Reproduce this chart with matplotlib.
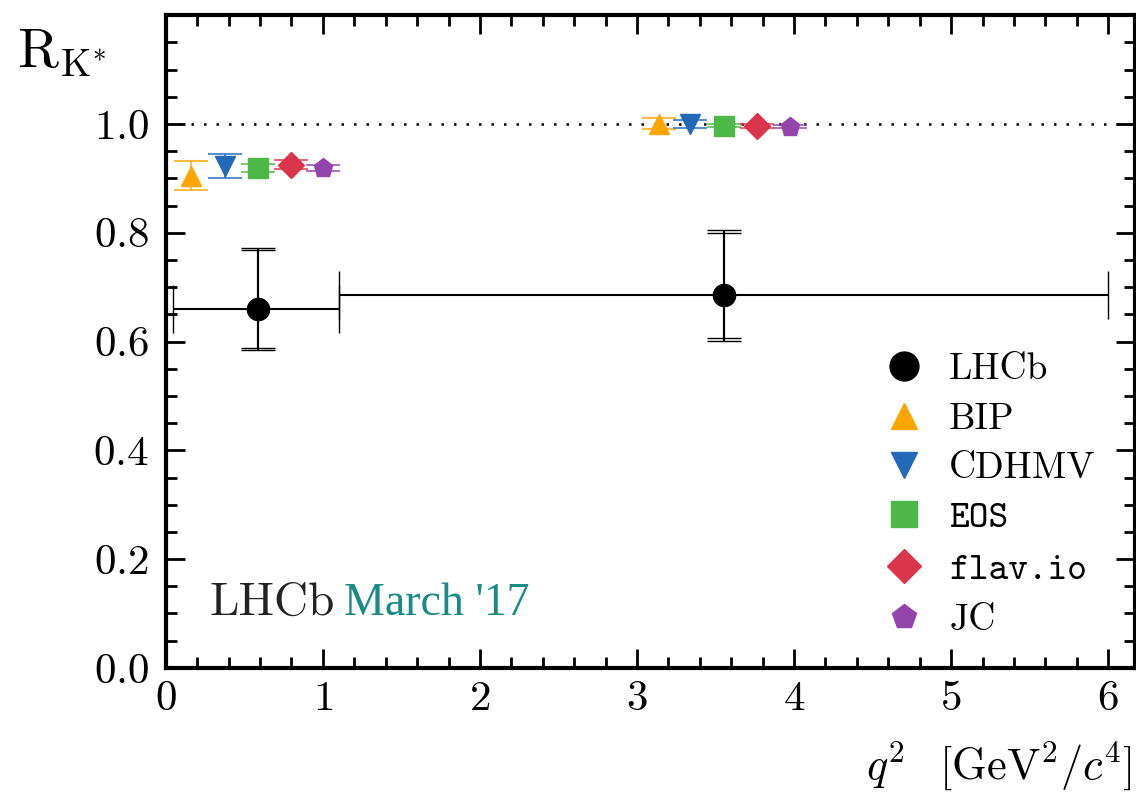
import matplotlib.pyplot as plt
import numpy as np
from matplotlib.ticker import MultipleLocator

plt.rcParams['font.family'] = 'serif'
plt.rcParams['font.serif'] = ['cmr10', 'DejaVu Serif']
plt.rcParams['mathtext.fontset'] = 'cm'
plt.rcParams['axes.formatter.use_mathtext'] = True

# LHCb measurement (two q2 bins)
lhcb_x = [0.585, 3.555]
lhcb_xlo = [0.045, 1.1]
lhcb_xhi = [1.1, 6.0]
lhcb_y = [0.66, 0.685]
lhcb_stat_up = [0.108, 0.115]
lhcb_stat_dn = [0.072, 0.078]
lhcb_tot_up = [0.112, 0.120]
lhcb_tot_dn = [0.075, 0.084]

# theory predictions: name, x positions (both bins), values, errors
th_names = ['BIP', 'CDHMV', 'EOS', 'flav.io', 'JC']
th_x = [[0.16, 3.14], [0.375, 3.34], [0.585, 3.555], [0.795, 3.765], [1.0, 3.975]]
th_y = [[0.905, 1.0], [0.922, 1.0], [0.919, 0.997], [0.925, 0.996], [0.919, 0.995]]
th_err = [[0.027, 0.010], [0.022, 0.007], [0.007, 0.003], [0.008, 0.004], [0.005, 0.003]]
th_colors = ['#ffa500', '#2369b8', '#4db848', '#db344d', '#9445ab']
th_markers = ['^', 'v', 's', 'D', 'p']
th_msize = [14, 14, 14, 13, 14]

fig = plt.figure(figsize=(11.36, 7.97), dpi=100)
ax = fig.add_axes([0.146, 0.162, 0.853, 0.819])

ax.axhline(1.0, color='black', ls=(0, (1, 4)), lw=1.8, zorder=1)

for i, name in enumerate(th_names):
    ax.errorbar(th_x[i], th_y[i], yerr=th_err[i], fmt='none', ecolor=th_colors[i],
                alpha=0.75, elinewidth=1.5, capsize=12, capthick=1.5, zorder=2)
    ax.plot(th_x[i], th_y[i], ls='none', marker=th_markers[i], ms=th_msize[i],
            color=th_colors[i], zorder=3)

# LHCb
xerr = [np.array(lhcb_x) - np.array(lhcb_xlo), np.array(lhcb_xhi) - np.array(lhcb_x)]
ax.errorbar(lhcb_x, lhcb_y, xerr=xerr, fmt='none', ecolor='black', elinewidth=1.5,
            capsize=17, capthick=1.0, zorder=4)
ax.errorbar(lhcb_x, lhcb_y, yerr=[lhcb_stat_dn, lhcb_stat_up], fmt='none', ecolor='black',
            elinewidth=1.5, capsize=12, capthick=1.0, zorder=4)
ax.errorbar(lhcb_x, lhcb_y, yerr=[lhcb_tot_dn, lhcb_tot_up], fmt='none', ecolor='black',
            elinewidth=1.5, capsize=12, capthick=1.0, zorder=4)
ax.plot(lhcb_x, lhcb_y, ls='none', marker='o', ms=16, color='black', zorder=5)

# legend proxies from markers only
handles = [plt.Line2D([], [], ls='none', marker='o', ms=16, color='black')]
for i in range(len(th_names)):
    handles.append(plt.Line2D([], [], ls='none', marker=th_markers[i], ms=th_msize[i],
                              color=th_colors[i]))
leg = ax.legend(handles, ['LHCb'] + th_names, loc='lower right', frameon=False,
                fontsize=27, labelspacing=0.43, handletextpad=0.4, markerscale=1.3,
                handlelength=1.6, borderaxespad=0, bbox_to_anchor=(0.975, 0.024))
for t in leg.get_texts():
    if t.get_text() in ('EOS', 'flav.io'):
        t.set_family('cmtt10')

ax.text(0.045, 0.081, 'LHCb', transform=ax.transAxes, fontsize=34, color='#222222')
ax.text(0.184, 0.081, "March '17", transform=ax.transAxes, fontsize=33,
        color='#1a8a84', family='Liberation Serif')

ax.set_xlim(0, 6.17)
ax.set_ylim(0, 1.2)
ax.xaxis.set_major_locator(MultipleLocator(1))
ax.xaxis.set_minor_locator(MultipleLocator(0.2))
ax.yaxis.set_major_locator(MultipleLocator(0.2))
ax.yaxis.set_minor_locator(MultipleLocator(0.05))
ax.set_yticks([0, 0.2, 0.4, 0.6, 0.8, 1.0])
ax.tick_params(which='both', direction='in', top=True, right=True, labelsize=31, width=2)
ax.tick_params(axis='y', which='major', length=14, pad=12)
ax.tick_params(axis='x', which='major', length=14, pad=9)
ax.tick_params(which='minor', length=8)
for s in ax.spines.values():
    s.set_linewidth(3)

ax.set_xlabel(r'$q^2\;\;\;[\mathrm{GeV}^2/c^4]$', fontsize=32, loc='right')
ax.xaxis.set_label_coords(0.997, -0.11)
fig.text(0.015, 0.915, r'$\mathrm{R}_{\mathrm{K}^{*}}$', fontsize=40)

fig.savefig('out.png', dpi=100)
